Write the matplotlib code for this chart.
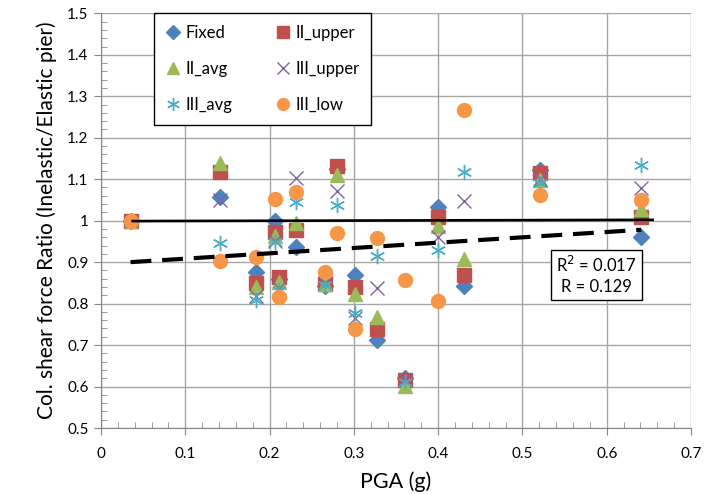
import matplotlib
matplotlib.use("Agg")
import matplotlib.pyplot as plt
from matplotlib.ticker import MultipleLocator, FormatStrFormatter

plt.rcParams['font.family'] = ['Lato', 'DejaVu Sans']

pga = [0.035, 0.141, 0.184, 0.206, 0.211, 0.231, 0.266, 0.280, 0.301, 0.328, 0.361, 0.400, 0.431, 0.521, 0.641]

fixed     = [1.000, 1.058, 0.876, 1.000, 0.860, 0.937, 0.842, 1.125, 0.870, 0.712, 0.620, 1.033, 0.843, 1.122, 0.960]
ii_upper  = [1.000, 1.117, 0.850, 0.973, 0.864, 0.977, 0.848, 1.131, 0.840, 0.738, 0.616, 1.008, 0.868, 1.116, 1.010]
ii_avg    = [1.000, 1.138, 0.840, 0.962, 0.851, 0.995, 0.848, 1.109, 0.823, 0.768, 0.601, 0.988, 0.907, 1.097, 1.029]
iii_upper = [1.000, 1.049, 0.818, 0.952, 0.838, 1.104, 0.850, 1.072, 0.766, 0.838, 0.615, 0.960, 1.048, 1.100, 1.078]
iii_avg   = [1.000, 0.946, 0.808, 0.948, 0.832, 1.046, 0.846, 1.038, 0.778, 0.915, 0.610, 0.929, 1.118, 1.091, 1.134]
iii_low   = [1.000, 0.903, 0.913, 1.052, 0.815, 1.068, 0.876, 0.970, 0.738, 0.958, 0.857, 0.806, 1.268, 1.062, 1.050]

ref_x = [0.036, 0.656]
ref_y = [0.999, 1.002]
trend_x = [0.035, 0.641]
trend_y = [0.900, 0.978]
stats_text = "R$^2$ = 0.017\nR = 0.129"

fig = plt.figure(figsize=(7.07, 4.94), dpi=100)
ax = fig.add_axes([0.1429, 0.1336, 0.8345, 0.8394])

series = [
    ("Fixed", fixed, dict(marker='D', color='#4F81BD', markersize=8.5)),
    ("II_upper", ii_upper, dict(marker='s', color='#C0504D', markersize=9.5)),
    ("II_avg", ii_avg, dict(marker='^', color='#9BBB59', markersize=10)),
    ("III_upper", iii_upper, dict(marker='x', color='#8064A2', markersize=10, mew=1.0)),
    ("III_avg", iii_avg, dict(marker=(6, 2, 0), color='#4BACC6', markersize=11, mew=1.0)),
    ("III_low", iii_low, dict(marker='o', color='#F79646', markersize=10)),
]
handles = {}
for i, (name, vals, kw) in enumerate(series):
    h, = ax.plot(pga, vals, linestyle='none', label=name, zorder=2 + i * 0.1,
                 markeredgecolor=kw['color'], **kw)
    handles[name] = h

ax.plot(ref_x, ref_y, color='black', lw=1.9, zorder=4, solid_capstyle='butt')
ax.plot(trend_x, trend_y, color='black', lw=3.0, dashes=(5, 2.6), zorder=4, dash_capstyle='butt')

ax.text(0.588, 0.870, stats_text, ha='center', va='center', fontsize=12,
        linespacing=1.3,
        bbox=dict(boxstyle='square,pad=0.3', facecolor='white', edgecolor='black', linewidth=1.0),
        zorder=5)

ax.set_xlim(0, 0.7)
ax.set_ylim(0.5, 1.5)
ax.xaxis.set_major_locator(MultipleLocator(0.1))
ax.xaxis.set_minor_locator(MultipleLocator(0.02))
ax.yaxis.set_major_locator(MultipleLocator(0.1))
ax.yaxis.set_minor_locator(MultipleLocator(0.02))
ax.xaxis.set_major_formatter(FormatStrFormatter('%g'))
ax.yaxis.set_major_formatter(FormatStrFormatter('%g'))
ax.grid(True, which='major', color='#A6A6A6', linewidth=1.0, zorder=0)
ax.set_axisbelow(True)
for s in ['top', 'right']:
    ax.spines[s].set_visible(False)
for s in ['left', 'bottom']:
    ax.spines[s].set_color('#868686')
ax.tick_params(which='major', direction='out', length=5, color='#868686', labelsize=11, pad=4)
ax.tick_params(which='minor', direction='in', length=4, color='#868686')
ax.tick_params(axis='x', pad=9)

ax.set_xlabel("PGA (g)", fontsize=15.5, labelpad=7)
ax.set_ylabel("Col. shear force Ratio (Inelastic/Elastic pier)", fontsize=15, labelpad=7)

order = ["Fixed", "II_avg", "III_avg", "II_upper", "III_upper", "III_low"]
leg = ax.legend([handles[n] for n in order], order, ncol=2, loc='upper left',
                bbox_to_anchor=(0.089, 1.0), fontsize=12, frameon=True, fancybox=False,
                edgecolor='black', framealpha=1, borderpad=0.7, labelspacing=1.2,
                columnspacing=2.6, handletextpad=0.3, handlelength=0.9, borderaxespad=0,
                markerscale=0.85)
leg.get_frame().set_linewidth(1.0)
leg.set_zorder(6)

fig.savefig("out.png", dpi=100)
